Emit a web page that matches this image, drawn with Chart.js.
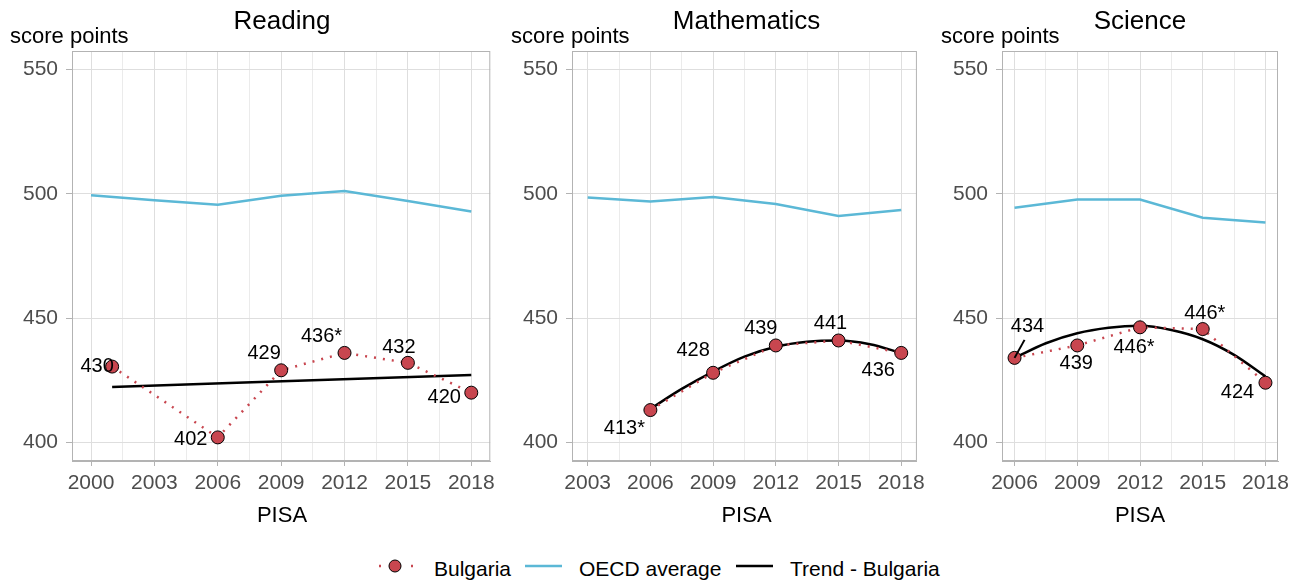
<!DOCTYPE html>
<html lang="en">
<head>
  <meta charset="UTF-8">
  <title>Bulgaria - PISA trends</title>
  <style>
    body {
      margin: 0;
      background: #fff;
      font-family: 'Liberation Sans', Arial, sans-serif;
      color: #000;
    }
    #wrap {
      position: relative;
      width: 1302px;
      height: 581px;
      overflow: hidden;
    }
    canvas { position: absolute; top: 0; }
    .title, .ylab, .xlab, .leg {
      position: absolute;
      white-space: nowrap;
    }
    .title { font-size: 26px; line-height: 26px; top: 7px; text-align: center; }
    .ylab { font-size: 22px; line-height: 22px; top: 25px; }
    .xlab { font-size: 22px; line-height: 22px; top: 504px; text-align: center; }
    .leg { font-size: 21px; line-height: 21px; top: 558px; }
    svg.sym { position: absolute; top: 556px; }
  </style>
  <script src="https://cdn.jsdelivr.net/npm/chart.js"></script>
</head>
<body>
<div id="wrap">
  <canvas id="reading" width="500" height="540" style="left:0px"></canvas>
  <canvas id="maths" width="430" height="540" style="left:500px"></canvas>
  <canvas id="science" width="372" height="540" style="left:930px"></canvas>

  <div class="title" style="left:72px;width:420px">Reading</div>
  <div class="title" style="left:572px;width:349px">Mathematics</div>
  <div class="title" style="left:1002px;width:276px">Science</div>

  <div class="ylab" style="left:10px">score points</div>
  <div class="ylab" style="left:511px">score points</div>
  <div class="ylab" style="left:941px">score points</div>

  <div class="xlab" style="left:72px;width:420px">PISA</div>
  <div class="xlab" style="left:572px;width:349px">PISA</div>
  <div class="xlab" style="left:1002px;width:276px">PISA</div>

  <svg class="sym" style="left:372px" width="46" height="20">
    <line x1="6" y1="10" x2="42" y2="10" stroke="#c8464f" stroke-width="2.5" stroke-dasharray="2 14" stroke-dashoffset="-1"/>
    <circle cx="23" cy="10" r="6" fill="#c8464f" stroke="#000" stroke-width="1"/>
  </svg>
  <div class="leg" style="left:434px">Bulgaria</div>
  <svg class="sym" style="left:525px" width="38" height="20">
    <line x1="0" y1="10" x2="37" y2="10" stroke="#5bb8d6" stroke-width="2.5"/>
  </svg>
  <div class="leg" style="left:579px">OECD average</div>
  <svg class="sym" style="left:736px" width="38" height="20">
    <line x1="0" y1="10" x2="37" y2="10" stroke="#000" stroke-width="2.5"/>
  </svg>
  <div class="leg" style="left:790px">Trend - Bulgaria</div>
</div>

<script>
  // ---- data ----
  const readingYears = [2001, 2006, 2009, 2012, 2015, 2018];
  const readingBulgaria = [430.5, 402, 429, 436, 432, 420];
  const readingLabels = ['430', '402', '429', '436*', '432', '420'];
  const readingOecdYears = [2000, 2003, 2006, 2009, 2012, 2015, 2018];
  const readingOecd = [499.4, 497.4, 495.6, 499.2, 501.2, 497.1, 492.9];
  const readingTrendYears = [2001, 2018];
  const readingTrend = [422.3, 427.1];
  const readingTicks = [2000, 2003, 2006, 2009, 2012, 2015, 2018];

  const mathsYears = [2006, 2009, 2012, 2015, 2018];
  const mathsBulgaria = [413, 428, 439, 441, 436];
  const mathsLabels = ['413*', '428', '439', '441', '436'];
  const mathsOecdYears = [2003, 2006, 2009, 2012, 2015, 2018];
  const mathsOecd = [498.5, 496.9, 498.7, 495.9, 491.1, 493.5];
  const mathsTrendYears = [2006, 2007.5, 2009, 2010.5, 2012, 2013.5, 2015, 2016.5, 2018];
  const mathsTrend = [413.5, 421.5, 428.5, 434.5, 438.5, 440.5, 441, 439.5, 436];
  const mathsTicks = [2003, 2006, 2009, 2012, 2015, 2018];

  const scienceYears = [2006, 2009, 2012, 2015, 2018];
  const scienceBulgaria = [434, 439, 446.3, 445.6, 424];
  const scienceLabels = ['434', '439', '446*', '446*', '424'];
  const scienceOecdYears = [2006, 2009, 2012, 2015, 2018];
  const scienceOecd = [494.4, 497.7, 497.7, 490.4, 488.5];
  const scienceTrendYears = [2006, 2007.5, 2009, 2010.5, 2012, 2013.5, 2015, 2016.5, 2018];
  const scienceTrend = [434, 439.9, 443.9, 446.1, 446.9, 445.2, 441.5, 435.2, 426.5];
  const scienceTicks = [2006, 2009, 2012, 2015, 2018];

  const yTicks = [400, 450, 500, 550];

  // label offsets in px from the point (style only)
  const readingOffsets = [[-15, 0], [-27, 2], [-17, -17], [-23, -16], [-9, -15], [-27, 5]];
  const mathsOffsets = [[-26, 18], [-20, -22], [-15, -17], [-8, -17], [-23, 18]];
  const scienceOffsets = [[13, -31], [-1, 18], [-6, 20], [2, -16], [-28, 10]];

  const RED = '#c8464f';
  const BLUE = '#5bb8d6';
  const FONT = "'Liberation Sans', Arial, sans-serif";

  const pairs = (xs, ys) => xs.map((x, i) => ({ x: x, y: ys[i] }));

  // frame round the plot + value labels
  const panelExtras = {
    id: 'panelExtras',
    afterDatasetsDraw(chart, args, opts) {
      const ctx = chart.ctx;
      const a = chart.chartArea;
      ctx.save();
      ctx.strokeStyle = '#b3b3b3';
      ctx.lineWidth = 1;
      ctx.strokeRect(a.left + 0.5, a.top + 0.5, a.right - a.left - 1, a.bottom - a.top - 1);

      const meta = chart.getDatasetMeta(0);
      ctx.font = '20px ' + FONT;
      ctx.fillStyle = '#000';
      ctx.textAlign = 'center';
      ctx.textBaseline = 'middle';
      meta.data.forEach((pt, i) => {
        const off = opts.offsets[i];
        const tx = pt.x + off[0];
        const ty = pt.y + off[1];
        if (opts.leader === i) {
          ctx.beginPath();
          ctx.strokeStyle = '#000';
          ctx.lineWidth = 2;
          ctx.moveTo(pt.x, pt.y);
          ctx.lineTo(tx - 3, ty + 13);
          ctx.stroke();
        }
        ctx.fillText(opts.labels[i], tx, ty);
      });
      ctx.restore();
    }
  };

  function makePanel(id, p) {
    new Chart(document.getElementById(id), {
      type: 'line',
      data: {
        datasets: [
          {
            label: 'Bulgaria',
            data: pairs(p.years, p.bulgaria),
            borderColor: RED,
            borderWidth: 2.5,
            borderDash: [2, 7],
            backgroundColor: RED,
            pointRadius: 6.5,
            pointBackgroundColor: RED,
            pointBorderColor: '#000',
            pointBorderWidth: 1,
            order: 0
          },
          {
            label: 'Trend - Bulgaria',
            data: pairs(p.trendYears, p.trend),
            borderColor: '#000',
            borderWidth: 2.5,
            pointRadius: 0,
            cubicInterpolationMode: 'monotone',
            order: 1
          },
          {
            label: 'OECD average',
            data: pairs(p.oecdYears, p.oecd),
            borderColor: BLUE,
            borderWidth: 2.5,
            pointRadius: 0,
            order: 2
          }
        ]
      },
      options: {
        responsive: false,
        animation: false,
        layout: { padding: { left: 0, right: p.padRight, top: 51, bottom: 39 } },
        plugins: {
          legend: { display: false },
          tooltip: { enabled: false },
          panelExtras: { labels: p.labels, offsets: p.offsets, leader: p.leader }
        },
        scales: {
          x: {
            type: 'linear',
            min: p.xMin,
            max: p.xMax,
            afterBuildTicks: s => {
              const t = [];
              p.ticks.forEach((v, i) => {
                t.push({ value: v });
                if (i < p.ticks.length - 1) t.push({ value: v + 1.5 });
              });
              s.ticks = t;
            },
            afterFit: s => { s.height = 40; },
            ticks: {
              autoSkip: false,
              maxRotation: 0,
              padding: 5,
              color: '#4d4d4d',
              font: { size: 21, family: FONT },
              callback: v => (p.ticks.includes(v) ? String(v) : '')
            },
            grid: {
              color: c => (c.tick && Number.isInteger(c.tick.value) ? '#dedede' : '#ebebeb'),
              tickColor: c => (c.tick && Number.isInteger(c.tick.value) ? '#b3b3b3' : 'rgba(0,0,0,0)'),
              tickLength: 5
            },
            border: { color: '#b3b3b3' }
          },
          y: {
            min: 392.5,
            max: 557.5,
            afterBuildTicks: s => { s.ticks = yTicks.map(v => ({ value: v })); },
            afterFit: s => { s.width = 72; },
            ticks: {
              padding: 8,
              color: '#4d4d4d',
              font: { size: 21, family: FONT }
            },
            grid: { color: '#dedede', tickColor: '#b3b3b3', tickLength: 6 },
            border: { color: '#b3b3b3' }
          }
        }
      },
      plugins: [panelExtras]
    });
  }

  makePanel('reading', {
    years: readingYears, bulgaria: readingBulgaria, labels: readingLabels, offsets: readingOffsets,
    oecdYears: readingOecdYears, oecd: readingOecd,
    trendYears: readingTrendYears, trend: readingTrend,
    ticks: readingTicks, xMin: 1999.1, xMax: 2018.9, padRight: 8
  });
  makePanel('maths', {
    years: mathsYears, bulgaria: mathsBulgaria, labels: mathsLabels, offsets: mathsOffsets,
    oecdYears: mathsOecdYears, oecd: mathsOecd,
    trendYears: mathsTrendYears, trend: mathsTrend,
    ticks: mathsTicks, xMin: 2002.25, xMax: 2018.75, padRight: 9
  });
  makePanel('science', {
    years: scienceYears, bulgaria: scienceBulgaria, labels: scienceLabels, offsets: scienceOffsets,
    oecdYears: scienceOecdYears, oecd: scienceOecd,
    trendYears: scienceTrendYears, trend: scienceTrend,
    ticks: scienceTicks, xMin: 2005.4, xMax: 2018.6, padRight: 24, leader: 0
  });
</script>
</body>
</html>
